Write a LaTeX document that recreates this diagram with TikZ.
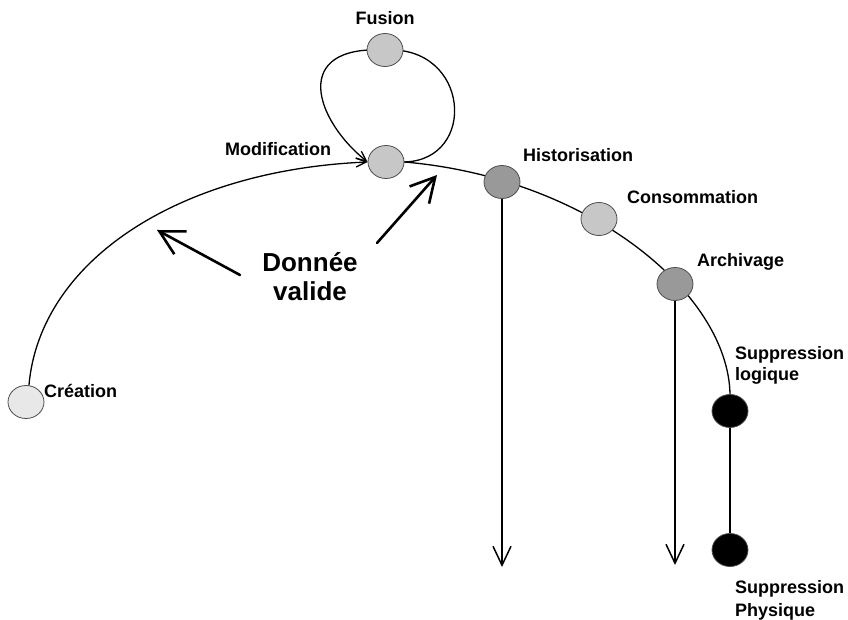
\documentclass[tikz,border=0pt]{standalone}
\usepackage{fontspec}
\setmainfont{Liberation Sans}
\usetikzlibrary{arrows.meta,shapes.geometric}
\pgfdeclarelayer{background}
\pgfsetlayers{background,main}
\definecolor{paleshade}{gray}{0.91}
\definecolor{midshade}{gray}{0.78}
\definecolor{darkshade}{gray}{0.60}
\definecolor{rim}{gray}{0.30}
\begin{document}
\begin{tikzpicture}[x=1pt,y=-1pt,
  state/.style={ellipse,draw=rim,line width=0.8pt,minimum width=36pt,minimum height=33pt,inner sep=0pt},
  lbl/.style={font=\fontsize{18}{22}\selectfont\bfseries,inner sep=0pt,align=left},
  flow/.style={line width=1.3pt,line cap=round},
  smalltip/.style={-{Straight Barb[length=10pt,width=9pt]}},
  droparrow/.style={line width=1.5pt,-{Straight Barb[length=19pt,width=18pt]}},
  bigarrow/.style={line width=2.6pt,line cap=round,-{Straight Barb[length=24pt,width=26pt]}}
]
\useasboundingbox (0,0) rectangle (848,620);

% life-cycle states
\node[state,fill=paleshade] (crea)  at (26,402)  {};
\node[state,fill=midshade]  (mod)   at (386,162) {};
\node[state,fill=midshade]  (fus)   at (385,50)  {};
\node[state,fill=darkshade] (hist)  at (502,182) {};
\node[state,fill=midshade]  (cons)  at (599,219) {};
\node[state,fill=darkshade] (arch)  at (675,284) {};
\node[state,fill=black]     (slog)  at (730,411) {};
\node[state,fill=black]     (sphys) at (730,550) {};

% main arc and the fusion loop, behind the states
\begin{pgfonlayer}{background}
  \draw[flow,smalltip] (crea.80) .. controls (40,260) and (180,170) .. (mod.west);
  \draw[flow] (mod.east) .. controls (590,178) and (728,294) .. (slog.north);
  \draw[flow,smalltip] (mod.east) .. controls (478,160) and (470,45) .. (fus.center)
                       .. controls (290,45) and (315,120) .. (mod.west);
\end{pgfonlayer}

% exits towards the bottom
\coordinate (histend) at (502,567);
\coordinate (archend) at (675,565);
\draw[droparrow] (hist) -- (histend);
\draw[droparrow] (arch) -- (archend);
\draw[line width=1.5pt] (slog) -- (sphys);

% labels (base anchor of a two-line label is its last line)
\node[lbl,anchor=base]      (tfus)   at (385,25)  {Fusion};
\node[lbl,anchor=base west] (tmod)   at (225,156) {Modification};
\node[lbl,anchor=base west] (thist)  at (523,162) {Historisation};
\node[lbl,anchor=base west] (tcons)  at (627,204) {Consommation};
\node[lbl,anchor=base west] (tarch)  at (697,266) {Archivage};
\node[lbl,anchor=base west,font=\fontsize{18}{21}\selectfont\bfseries] (tslog)  at (735,380) {Suppression\\logique};
\node[lbl,anchor=base west,font=\fontsize{18}{23}\selectfont\bfseries] (tsphys) at (735,616) {Suppression\\Physique};
\node[lbl,anchor=base west] (tcrea)  at (44,397)  {Création};

% valid data span
\node[font=\fontsize{26}{29}\selectfont\bfseries,align=center,inner sep=0pt,anchor=base]
  (valid) at (310,300) {Donnée\\valide};
\coordinate (vlfrom) at (240,275);
\coordinate (vlto)   at (157,230);
\coordinate (vrfrom) at (377,243);
\coordinate (vrto)   at (437,175);
\draw[bigarrow] (vlfrom) -- (vlto);
\draw[bigarrow] (vrfrom) -- (vrto);
\end{tikzpicture}
\end{document}
